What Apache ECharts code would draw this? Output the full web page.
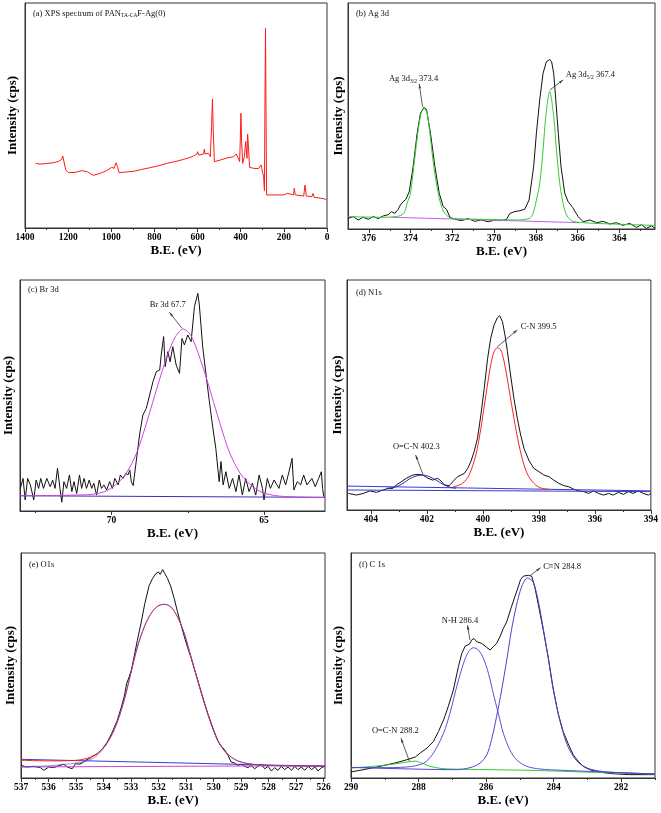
<!DOCTYPE html>
<html><head><meta charset="utf-8">
<script src="https://cdn.jsdelivr.net/npm/echarts@6/dist/echarts.min.js"></script>
<style>html,body{margin:0;padding:0;background:#fff}#c{width:661px;height:813px}</style>
</head><body><div id="c"></div><script>
// ---------- tick labels ----------
const ticksA = [0, 200, 400, 600, 800, 1000, 1200, 1400];
const minorA = [100, 300, 500, 700, 900, 1100, 1300];
const ticksB = [364, 366, 368, 370, 372, 374, 376];
const minorB = [363, 365, 367, 369, 371, 373, 375];
const ticksC = [65, 70];
const minorC = [67.5, 72.5];
const ticksD = [394, 396, 398, 400, 402, 404];
const minorD = [395, 397, 399, 401, 403];
const ticksE = [526, 527, 528, 529, 530, 531, 532, 533, 534, 535, 536, 537];
const minorE = [526.5, 527.5, 528.5, 529.5, 530.5, 531.5, 532.5, 533.5, 534.5, 535.5, 536.5];
const ticksF = [282, 284, 286, 288, 290];
const minorF = [281, 283, 285, 287, 289];

// ---------- (a) survey spectrum [B.E., intensity] ----------
const surveyData = [[1350,28.7],[1330,28.4],[1299,28.7],[1268,29.0],[1245,29.6],[1230,30.5],[1225,32.0],[1219,31.7],[1211,25.8],[1199,24.6],[1168,24.7],[1137,25.5],[1129,24.7],[1111,25.0],[1083,23.4],[1052,24.3],[1021,25.5],[998,27.0],[987,26.5],[978,29.0],[971,27.3],[964,24.6],[930,24.9],[897,25.2],[860,26.0],[820,26.8],[780,27.7],[743,28.7],[700,29.6],[665,30.5],[640,31.2],[619,32.0],[603,32.9],[600,33.9],[594,32.4],[572,32.9],[569,35.0],[565,32.9],[549,33.2],[541,31.7],[535,45.0],[531,57.3],[527,42.1],[522,29.5],[495,30.2],[464,31.1],[433,31.7],[421,32.9],[411,31.0],[405,29.5],[402,39.1],[399,51.0],[396,39.1],[391,28.7],[383,31.7],[377,38.4],[374,38.8],[371,31.0],[368,41.8],[364,36.1],[359,27.0],[340,26.5],[317,26.4],[306,28.0],[300,27.3],[294,22.8],[290,16.6],[288,49.5],[285,88.7],[283,56.9],[280,14.7],[247,14.7],[201,14.7],[183,15.4],[177,14.7],[155,14.7],[152,17.6],[147,14.7],[108,14.2],[102,19.1],[96,14.2],[70,13.9],[65,15.4],[59,13.6],[31,13.3],[23,13.9],[15,13.0],[3,12.7]];

// ---------- (b) Ag 3d ----------
const agRaw = [[376.99,4.7],[376.75,5.5],[376.51,4.0],[376.27,5.2],[376.03,4.3],[375.79,5.5],[375.55,4.6],[375.31,5.8],[375.08,6.3],[374.92,7.7],[374.76,6.9],[374.60,8.7],[374.49,10.6],[374.36,12.1],[374.23,13.1],[374.07,16.5],[373.88,27.6],[373.69,42.3],[373.53,51.2],[373.37,53.8],[373.24,52.9],[373.05,42.3],[372.84,27.6],[372.63,15.8],[372.44,9.9],[372.28,8.7],[372.12,5.2],[371.89,4.3],[371.57,3.7],[371.25,4.6],[370.93,3.4],[370.61,4.0],[370.29,3.2],[369.97,4.0],[369.65,3.7],[369.41,4.3],[369.25,6.9],[369.01,7.7],[368.77,8.1],[368.54,8.7],[368.33,12.8],[368.11,27.6],[367.98,42.3],[367.82,57.1],[367.66,68.9],[367.50,74.0],[367.34,75.0],[367.25,74.0],[367.15,68.9],[367.05,57.1],[366.93,42.3],[366.80,27.6],[366.62,15.8],[366.46,12.1],[366.25,9.6],[365.98,5.5],[365.74,3.2],[365.42,4.0],[365.10,2.8],[364.78,3.4],[364.47,2.2],[364.15,2.8],[363.83,1.6],[363.51,2.5],[363.19,0.7],[362.95,1.9],[362.71,0.3],[362.47,1.4],[362.31,0.4]];
const agFit = [[376.99,5.5],[375.47,5.2],[374.68,5.5],[374.33,6.9],[374.17,11.4],[374.01,15.8],[373.85,27.6],[373.66,42.3],[373.50,51.2],[373.35,53.4],[373.21,51.2],[373.08,42.3],[372.89,27.6],[372.68,15.8],[372.52,9.9],[372.36,6.9],[372.04,4.7],[370.69,4.3],[368.93,4.0],[368.30,4.7],[368.14,6.9],[367.98,12.8],[367.82,20.2],[367.66,35.0],[367.53,49.7],[367.34,60.8],[367.15,49.7],[367.02,35.0],[366.86,20.2],[366.73,12.8],[366.57,6.9],[366.30,3.7],[365.74,2.8],[364.31,2.2],[362.31,1.6]];
const agBase = [[374.92,5.2],[365.90,2.8]];

// ---------- (c) Br 3d ----------
const brRaw = [[72.99,9.8],[72.90,14.1],[72.83,4.8],[72.75,14.1],[72.66,11.3],[72.55,4.8],[72.47,13.4],[72.39,9.8],[72.32,14.1],[72.23,9.8],[72.12,14.1],[72.01,10.5],[71.93,13.4],[71.85,9.8],[71.77,18.5],[71.69,9.8],[71.63,3.8],[71.56,12.7],[71.47,9.8],[71.38,15.6],[71.30,8.4],[71.23,12.7],[71.14,7.6],[71.05,15.6],[70.98,9.8],[70.90,14.1],[70.82,9.8],[70.73,13.4],[70.65,9.8],[70.58,12.0],[70.49,6.9],[70.40,13.4],[70.33,9.8],[70.25,11.3],[70.16,9.1],[70.06,12.7],[69.97,9.8],[69.89,14.1],[69.78,11.3],[69.71,15.6],[69.62,14.1],[69.53,16.3],[69.46,15.6],[69.40,17.7],[69.35,12.7],[69.29,11.0],[69.19,21.4],[69.08,32.9],[68.97,41.6],[68.86,44.4],[68.75,50.2],[68.64,56.0],[68.53,60.3],[68.42,61.0],[68.37,67.5],[68.29,75.5],[68.24,62.5],[68.15,69.0],[68.08,64.6],[67.99,71.1],[67.88,63.2],[67.77,59.6],[67.69,74.7],[67.61,71.9],[67.50,76.2],[67.39,73.3],[67.28,88.5],[67.17,94.2],[67.12,89.2],[67.01,71.1],[66.90,58.9],[66.79,47.3],[66.69,37.2],[66.58,27.1],[66.47,12.7],[66.41,21.4],[66.34,11.3],[66.25,17.0],[66.14,9.8],[66.03,14.1],[65.92,8.4],[65.82,15.6],[65.71,6.9],[65.60,14.1],[65.49,8.4],[65.38,12.0],[65.27,6.9],[65.16,15.6],[65.05,9.8],[65.00,4.8],[64.89,14.1],[64.79,9.8],[64.67,13.4],[64.51,9.8],[64.40,15.6],[64.29,11.3],[64.18,17.0],[64.08,22.8],[64.02,9.1],[63.91,12.7],[63.80,11.3],[63.70,15.6],[63.59,11.3],[63.43,14.1],[63.32,10.5],[63.21,14.1],[63.12,17.0],[63.08,9.8],[63.04,6.2]];
const brFit = [[73,6.6],[72,6.7],[71.2,6.9],[70.65,7.2],[70.15,8.8],[69.65,14],[69.4,19],[69.15,26],[68.9,36],[68.65,47],[68.4,58],[68.15,68],[67.9,75.5],[67.65,78.8],[67.4,76],[67.15,68],[66.9,58],[66.65,47],[66.4,36],[66.15,26],[65.9,19],[65.65,14],[65.15,8.6],[64.65,6.7],[64,6.1],[63,5.9]];
const brBase = [[73,6.6],[63,5.9]];

// ---------- (d) N1s ----------
const nRaw = [[404.80,7.2],[404.51,6.5],[404.27,7.2],[404.04,8.3],[403.80,7.7],[403.56,8.7],[403.38,9.4],[403.21,9.4],[403.09,10.9],[402.91,12.3],[402.73,13.8],[402.50,15.2],[402.32,15.5],[402.14,15.2],[401.96,13.8],[401.79,13.0],[401.61,13.8],[401.49,12.6],[401.37,10.9],[401.20,10.6],[401.02,13.0],[400.90,14.5],[400.78,15.2],[400.66,15.9],[400.54,18.1],[400.43,21.0],[400.31,25.4],[400.19,31.2],[400.07,41.3],[399.95,52.9],[399.83,65.9],[399.72,74.6],[399.60,80.4],[399.48,83.6],[399.40,84.5],[399.30,81.9],[399.21,76.1],[399.12,68.8],[399.01,58.7],[398.89,48.6],[398.77,39.9],[398.65,32.6],[398.53,26.8],[398.36,21.7],[398.18,18.1],[398.00,16.7],[397.82,15.2],[397.64,14.5],[397.47,13.0],[397.29,11.6],[397.11,10.6],[396.93,10.1],[396.76,9.1],[396.58,8.3],[396.40,8.0],[396.22,7.2],[396.05,8.3],[395.87,7.2],[395.69,6.5],[395.51,7.2],[395.34,6.5],[395.16,7.7],[394.98,6.8],[394.80,8.0],[394.63,7.2],[394.45,8.3],[394.27,7.2],[394.09,6.5],[394.0,7.2]];
const nFitCN = [[401.08,9.9],[400.72,11.6],[400.49,15.2],[400.25,23.9],[400.07,35.5],[399.89,50.0],[399.72,63.0],[399.60,68.8],[399.48,70.6],[399.36,69.6],[399.24,64.5],[399.07,52.9],[398.89,39.9],[398.71,28.3],[398.53,19.6],[398.36,14.5],[398.12,10.9],[397.88,9.4],[397.64,9.0]];
const nFitOCN = [[403.44,9.4],[403.09,10.1],[402.85,11.6],[402.62,13.5],[402.38,14.8],[402.14,15.2],[401.91,14.5],[401.67,13.0],[401.43,11.2],[401.20,10.0],[400.96,9.4]];
const nBaseA = [[404.85,10.4],[394,8.3]];
const nBaseB = [[404.85,8.7],[394,8.0]];

// ---------- (e) O1s ----------
const oRaw = [[537.0,5.6],[536.78,4.9],[536.54,5.2],[536.29,4.6],[536.17,3.4],[535.99,4.9],[535.81,4.6],[535.63,5.5],[535.44,6.1],[535.32,4.9],[535.14,4.1],[535.02,6.4],[534.89,6.1],[534.77,6.7],[534.65,7.9],[534.53,8.6],[534.41,9.6],[534.23,10.8],[534.04,13.0],[533.86,16.0],[533.68,20.4],[533.50,25.6],[533.37,30.8],[533.25,36.0],[533.16,41.9],[533.07,44.9],[532.99,47.9],[532.89,53.8],[532.77,61.2],[532.64,68.6],[532.50,77.5],[532.34,85.6],[532.22,88.6],[532.10,90.8],[532.01,91.6],[531.94,90.5],[531.85,92.6],[531.77,90.8],[531.67,88.6],[531.55,84.9],[531.43,79.7],[531.31,73.8],[531.18,67.9],[531.06,62.7],[530.94,57.9],[530.82,53.5],[530.70,48.6],[530.58,43.7],[530.45,38.2],[530.33,33.3],[530.21,28.6],[530.09,24.4],[529.97,20.4],[529.85,16.7],[529.72,14.1],[529.60,12.6],[529.48,10.1],[529.36,7.1],[529.24,6.7],[529.12,5.6],[528.99,6.1],[528.87,5.2],[528.75,4.6],[528.63,5.6],[528.51,4.1],[528.39,5.2],[528.27,6.1],[528.14,4.1],[528.02,5.2],[527.90,3.1],[527.78,4.6],[527.66,3.4],[527.54,5.2],[527.42,3.7],[527.29,4.9],[527.17,3.4],[527.05,5.2],[526.93,3.7],[526.81,4.9],[526.69,3.4],[526.56,5.2],[526.44,3.7],[526.32,4.9],[526.20,3.1],[526.08,4.6],[525.95,5.2]];
const oFitRed = [[537.0,7.9],[535.93,7.6],[534.96,7.9],[534.53,9.0],[534.23,10.8],[533.98,13.8],[533.74,18.2],[533.50,24.9],[533.25,34.5],[533.01,46.4],[532.77,58.2],[532.52,67.1],[532.28,73.0],[532.04,76.3],[531.79,77.2],[531.55,76.0],[531.31,71.6],[531.06,64.1],[530.82,53.8],[530.58,43.4],[530.33,33.0],[530.09,24.1],[529.85,16.7],[529.60,12.0],[529.36,9.3],[529.12,7.6],[528.75,6.4],[528.02,5.6],[526.0,5.2]];
const oFitBlue = [[537.0,4.9],[535.93,5.5],[534.96,6.7],[534.53,7.9],[534.23,10.1],[533.98,13.5],[533.74,18.2],[533.50,24.9],[533.25,34.5],[533.01,46.4],[532.77,58.2],[532.52,67.1],[532.28,73.0],[532.04,76.3],[531.79,77.2],[531.55,76.0],[531.31,71.6],[531.06,64.1],[530.82,53.8],[530.58,43.4],[530.33,33.0],[530.09,24.1],[529.85,16.7],[529.60,12.0],[529.36,9.3],[529.12,7.6],[528.75,6.4],[528.02,5.6],[526.0,5.2]];
const oBaseBlue = [[537,8.3],[525.95,5.2]];
const oBaseMag = [[537,4.9],[525.95,5.5]];

// ---------- (f) C 1s ----------
const cRaw = [[290.0,2.7],[289.63,3.7],[289.13,5.2],[288.64,6.9],[288.35,8.1],[288.10,9.3],[287.95,11.1],[287.75,13.3],[287.56,16.2],[287.41,20.7],[287.26,25.8],[287.12,31.8],[286.97,39.1],[286.82,49.5],[286.72,55.4],[286.62,58.6],[286.49,59.5],[286.43,61.3],[286.36,62.0],[286.28,60.6],[286.13,59.8],[285.98,58.0],[285.88,56.9],[285.79,58.3],[285.69,59.8],[285.59,62.8],[285.49,66.5],[285.39,69.4],[285.25,76.1],[285.15,80.5],[285.05,84.9],[284.98,88.2],[284.90,89.7],[284.75,90.1],[284.65,89.7],[284.56,84.9],[284.46,77.5],[284.31,66.0],[284.16,53.6],[284.02,40.3],[283.87,28.8],[283.72,20.7],[283.57,15.2],[283.42,10.3],[283.27,7.4],[283.13,5.2],[282.93,3.7],[282.74,3.0],[282.44,2.2],[282.15,1.8],[281.75,1.5],[281.01,1.5]];
const cFitNH = [[290.0,4.7],[289.13,4.6],[288.35,4.9],[287.85,6.6],[287.56,11.1],[287.26,19.9],[287.07,28.8],[286.87,40.6],[286.67,51.0],[286.52,56.1],[286.38,57.9],[286.23,56.9],[286.08,53.2],[285.93,46.5],[285.79,37.7],[285.64,28.8],[285.49,19.9],[285.30,12.6],[285.10,8.1],[284.80,5.2],[284.41,4.0],[283.72,3.4],[281.01,1.8]];
const cFitCN = [[290.0,4.7],[286.87,3.7],[286.48,4.6],[286.18,6.6],[285.98,10.3],[285.84,17.0],[285.69,27.3],[285.54,39.1],[285.39,52.4],[285.25,65.7],[285.10,76.8],[284.95,84.9],[284.78,88.9],[284.61,87.1],[284.46,79.0],[284.31,66.5],[284.16,53.2],[284.02,39.9],[283.82,25.8],[283.62,15.5],[283.42,9.6],[283.23,6.4],[282.93,4.0],[282.44,2.7],[281.01,1.8]];
const cFitOCN = [[290.0,4.4],[289.13,5.5],[288.64,6.4],[288.30,7.2],[288.10,7.5],[287.90,6.6],[287.66,5.2],[287.36,4.3],[287.07,4.0],[284.70,3.4],[282.74,2.5],[281.01,1.8]];

// ---------- layout & styling ----------
const FONT = '"Liberation Serif","Times New Roman",serif';
const layout = [
  {left:25, top:3, width:302, height:225, min:0, max:1400, major:ticksA, minor:minorA, yGap:6},
  {left:348, top:3, width:307, height:226, min:362.3, max:377, major:ticksB, minor:minorB, yGap:3},
  {left:20, top:280, width:305, height:231, min:63, max:73, major:ticksC, minor:minorC, yGap:5},
  {left:347, top:280, width:306, height:230, min:394, max:404.85, major:ticksD, minor:minorD, yGap:3},
  {left:21, top:553, width:304, height:225, min:525.95, max:537, major:ticksE, minor:minorE, yGap:4},
  {left:351, top:553, width:304, height:225, min:281, max:290, major:ticksF, minor:minorF, yGap:6}
];

const grids = [], xAxes = [], yAxes = [];
layout.forEach((L, i) => {
  grids.push({left:L.left, top:L.top, width:L.width, height:L.height, show:true, borderColor:'#333', borderWidth:1, containLabel:false});
  xAxes.push({
    type:'value', gridIndex:i, min:L.min, max:L.max, inverse:true, position:'bottom',
    name:'B.E. (eV)', nameLocation:'middle', nameGap:15,
    nameTextStyle:{fontFamily:FONT, fontWeight:'bold', fontSize:13, color:'#000'},
    axisLine:{show:true, onZero:false, lineStyle:{color:'#333', width:1}},
    axisTick:{show:true, inside:false, length:4, customValues:L.major, lineStyle:{color:'#333', width:1}},
    axisLabel:{show:true, customValues:L.major, margin:5, fontFamily:FONT, fontWeight:'bold', fontSize:9.5, color:'#000',
      formatter: v => String(v)},
    splitLine:{show:false}
  });
  xAxes.push({
    type:'value', gridIndex:i, min:L.min, max:L.max, inverse:true, position:'bottom',
    axisLine:{show:false}, axisLabel:{show:false}, splitLine:{show:false},
    axisTick:{show:true, inside:false, length:2, customValues:L.minor, lineStyle:{color:'#333', width:1}}
  });
  yAxes.push({
    type:'value', gridIndex:i, min:0, max:100,
    name:'Intensity (cps)', nameLocation:'middle', nameGap:L.yGap, nameRotate:90,
    nameTextStyle:{fontFamily:FONT, fontWeight:'bold', fontSize:13, color:'#000'},
    axisLine:{show:true, onZero:false, lineStyle:{color:'#333', width:1}},
    axisTick:{show:false}, axisLabel:{show:false}, splitLine:{show:false}
  });
});

const RICH = {
  n:{fontFamily:FONT, fontSize:8.5, color:'#111'},
  s:{fontFamily:FONT, fontSize:5.5, color:'#111', padding:[5,0,0,0]}
};

function line(p, data, color, smooth, extra) {
  return Object.assign({
    type:'line', xAxisIndex:2*p, yAxisIndex:p, data:data, symbol:'none', showSymbol:false,
    smooth: smooth ? 0.3 : false, lineStyle:{color:color, width:1}, itemStyle:{color:color},
    silent:true, animation:false, clip:true
  }, extra || {});
}
function marks(labels, arrows) {
  return {
    markPoint:{
      silent:true, animation:false, symbol:'circle', symbolSize:0,
      label:{show:true, position:'right', distance:0, rich:RICH},
      data: labels.map(l => ({coord:l.at, label:{formatter:l.text}}))
    },
    markLine:{
      silent:true, animation:false, symbol:['none','arrow'], symbolSize:[2,5],
      label:{show:false}, emphasis:{disabled:true},
      lineStyle:{color:'#333', width:0.8, type:'solid'},
      data: arrows.map(a => [{coord:a[0]}, {coord:a[1]}])
    }
  };
}

const series = [
  // (a)
  line(0, surveyData, '#ff1a1a', false),
  // (b)
  line(1, agRaw, '#111', false, marks(
    [{at:[375.04,66.4], text:'{n|Ag 3d}{s|3/2}{n| 373.4}'}, {at:[366.57,68.1], text:'{n|Ag 3d}{s|5/2}{n| 367.4}'}],
    [[[373.43,54.1],[373.59,64.2]], [[367.34,61.5],[366.70,65.9]]])),
  line(1, agBase, '#c060e8', false),
  line(1, agFit, '#33cc33', true),
  // (c)
  line(2, brRaw, '#111', false, marks(
    [{at:[68.75,89.2], text:'{n|Br 3d 67.7}'}],
    [[[67.69,79.1],[68.1,86.0]]])),
  line(2, brBase, '#3333bb', false),
  line(2, brFit, '#cc44dd', true),
  // (d)
  line(3, nRaw, '#111', false, marks(
    [{at:[398.65,79.7], text:'{n|C-N 399.5}'}, {at:[403.21,27.5], text:'{n|O=C-N 402.3}'}],
    [[[399.48,71.0],[398.77,78.3]], [[402.14,15.5],[402.40,23.9]]])),
  line(3, nBaseA, '#3a3acc', false),
  line(3, nBaseB, '#3a3acc', false),
  line(3, nFitCN, '#ff2020', true),
  line(3, nFitOCN, '#2a2acc', true),
  // (e)
  line(4, oRaw, '#111', false),
  line(4, oBaseMag, '#cc44cc', false),
  line(4, oBaseBlue, '#3a3acc', false),
  line(4, oFitRed, '#ff2020', true),
  line(4, oFitBlue, '#5050e0', true, {lineStyle:{color:'#5050e0', width:0.8, opacity:0.8}}),
  // (f)
  line(5, cRaw, '#111', false, marks(
    [{at:[284.31,94.1], text:'{n|C≡N 284.8}'}, {at:[287.31,69.7], text:'{n|N-H 286.4}'}, {at:[289.38,21.0], text:'{n|O=C-N 288.2}'}],
    [[[284.68,90.1],[284.39,93.5]], [[286.48,61.3],[286.55,67.9]], [[288.27,7.4],[288.52,17.7]]])),
  line(5, cFitOCN, '#33cc33', true),
  line(5, cFitNH, '#5a50d8', true),
  line(5, cFitCN, '#4a44d0', true)
];

const titles = [
  {left:33, top:9, text:'{n|(a) XPS spectrum of PAN}{s|TA-CA}{n|F-Ag(0)}'},
  {left:356, top:9, text:'{n|(b) Ag 3d}'},
  {left:28, top:285, text:'{n|(c) Br 3d}'},
  {left:356, top:288, text:'{n|(d) N1s}'},
  {left:29, top:560, text:'{n|(e) O1s}'},
  {left:359, top:560, text:'{n|(f) C 1s}'}
];

const chart = echarts.init(document.getElementById('c'), null, {renderer:'canvas', width:661, height:813});
chart.setOption({
  backgroundColor:'#fff',
  animation:false,
  grid:grids, xAxis:xAxes, yAxis:yAxes, series:series,
  graphic: titles.map(t => ({type:'text', left:t.left, top:t.top, silent:true,
    style:{text:t.text, rich:RICH, fill:'#111'}}))
});
</script></body></html>
